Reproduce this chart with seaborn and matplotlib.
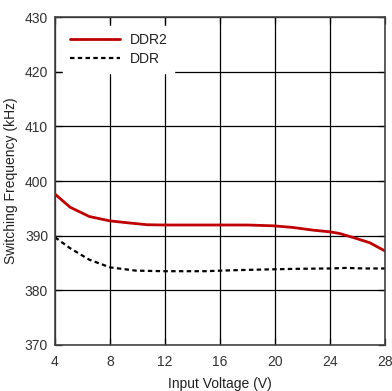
import matplotlib
matplotlib.use("Agg")
import matplotlib.pyplot as plt
import seaborn as sns
import pandas as pd
from matplotlib.lines import Line2D

ddr2_v = [4, 5.1, 6.5, 8, 9.5, 10.7, 12, 14, 16, 18, 19.9, 21.3, 22.8, 24, 24.7, 25.9, 26.9, 28]
ddr2_f = [397.6, 395.2, 393.5, 392.7, 392.3, 392.0, 391.95, 391.95, 391.95, 391.95, 391.8, 391.5, 391.0, 390.7, 390.4, 389.5, 388.7, 387.2]
ddr_v = [4, 5.1, 6.5, 8, 9.9, 12, 14.9, 17.3, 19.9, 22, 24, 25.2, 26.5, 28]
ddr_f = [389.7, 387.7, 385.6, 384.2, 383.6, 383.5, 383.5, 383.7, 383.85, 383.95, 384.0, 384.1, 384.0, 384.0]

sns.set_theme(style="white")
plt.rcParams['font.family'] = ['Liberation Sans', 'DejaVu Sans']

df = pd.concat([
    pd.DataFrame({"v": ddr2_v, "f": ddr2_f, "s": "DDR2"}),
    pd.DataFrame({"v": ddr_v, "f": ddr_f, "s": "DDR"}),
])

fig = plt.figure(figsize=(3.92, 3.91), dpi=100)
ax = fig.add_axes([55/392, 46/391, 330/392, 328/391])

sns.lineplot(data=df, x="v", y="f", hue="s", style="s",
             palette={"DDR2": "#c00000", "DDR": "#000000"},
             dashes={"DDR2": "", "DDR": (2, 1.5)},
             ax=ax, legend=False, sort=False)
for ln in ax.lines:
    if ln.get_linestyle() == '-':
        ln.set_linewidth(2.0)
    else:
        ln.set_linewidth(1.6)

ax.set_xlim(4, 28)
ax.set_ylim(370, 430)
ax.set_xticks([4, 8, 12, 16, 20, 24, 28])
ax.set_yticks([370, 380, 390, 400, 410, 420, 430])
ax.grid(True, color="black", linewidth=0.9)
ax.set_axisbelow(True)
for s in ax.spines.values():
    s.set_color("#444444")
    s.set_linewidth(1.2)
ax.tick_params(direction="in", length=5, width=0.9, colors="black",
               labelcolor="#333333", labelsize=10, top=True, right=True,
               left=True, bottom=True, pad=5)
ax.tick_params(axis="x", pad=7)
ax.set_xlabel("Input Voltage (V)", fontsize=10, color="#222222", labelpad=6)
ax.set_ylabel("Switching Frequency (kHz)", fontsize=10, color="#222222", labelpad=5)

handles = [Line2D([], [], color="#c00000", lw=2.0),
           Line2D([], [], color="black", lw=1.6, dashes=(2, 1.5))]
leg = ax.legend(handles, ["DDR2", "DDR"], loc="upper left",
                bbox_to_anchor=(0.024, 0.973), frameon=True, fontsize=10,
                handlelength=3.6, handletextpad=0.7, labelspacing=0.35,
                borderpad=0.5, borderaxespad=0, fancybox=False)
leg.get_frame().set_edgecolor("white")
leg.get_frame().set_facecolor("white")
leg.get_frame().set_alpha(1)
for t in leg.get_texts():
    t.set_color("#222222")

fig.savefig("out.png", dpi=100)
